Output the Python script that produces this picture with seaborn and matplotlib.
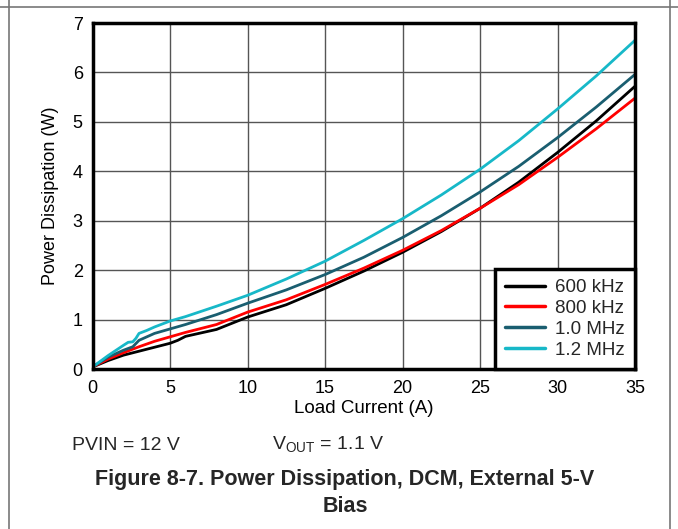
import matplotlib
matplotlib.use("Agg")
import matplotlib.pyplot as plt
import seaborn as sns
import pandas as pd
from matplotlib.lines import Line2D

sns.set_theme(style="white")
plt.rcParams['font.family'] = ['Liberation Sans', 'DejaVu Sans']

series_names = ["600 kHz", "800 kHz", "1.0 MHz", "1.2 MHz"]
colors = ["#000000", "#ff0000", "#1a5e70", "#17b8c8"]

x_600 = [0, 1, 2, 3, 4, 5, 5.5, 6, 7, 8, 10, 12.5, 15, 17.5, 20, 22.5, 25, 27.5, 30, 32.5, 35]
y_600 = [0.04, 0.17, 0.28, 0.36, 0.44, 0.52, 0.58, 0.66, 0.73, 0.8, 1.05, 1.3, 1.63, 1.98, 2.36, 2.78, 3.25, 3.78, 4.38, 5.02, 5.72]

x_800 = [0, 1, 2, 3, 4, 5, 6, 8, 10, 12.5, 15, 17.5, 20, 22.5, 25, 27.5, 30, 32.5, 35]
y_800 = [0.04, 0.2, 0.33, 0.45, 0.56, 0.65, 0.74, 0.9, 1.15, 1.4, 1.71, 2.04, 2.4, 2.8, 3.25, 3.73, 4.28, 4.86, 5.48]

x_10 = [0, 1, 2, 2.6, 3, 4, 5, 6, 8, 10, 12.5, 15, 17.5, 20, 22.5, 25, 27.5, 30, 32.5, 35]
y_10 = [0.04, 0.24, 0.38, 0.45, 0.58, 0.72, 0.81, 0.9, 1.1, 1.33, 1.6, 1.91, 2.26, 2.66, 3.1, 3.58, 4.1, 4.68, 5.3, 5.96]

x_12 = [0, 1, 2, 2.3, 2.6, 2.8, 3, 3.5, 4, 5, 6, 8, 10, 12.5, 15, 17.5, 20, 22.5, 25, 27.5, 30, 32.5, 35]
y_12 = [0.04, 0.27, 0.48, 0.54, 0.55, 0.62, 0.72, 0.78, 0.85, 0.97, 1.06, 1.27, 1.49, 1.82, 2.18, 2.6, 3.04, 3.52, 4.04, 4.62, 5.26, 5.93, 6.65]

frames = []
for name, xs, ys in zip(series_names, [x_600, x_800, x_10, x_12], [y_600, y_800, y_10, y_12]):
    frames.append(pd.DataFrame({"Load Current (A)": xs, "Power Dissipation (W)": ys, "Freq": name}))
df = pd.concat(frames, ignore_index=True)

W, H = 678, 529
fig = plt.figure(figsize=(W/100, H/100), dpi=100)
L, R, T, B = 92.5, 635, 23, 369
ax = fig.add_axes([L/W, 1-B/H, (R-L)/W, (B-T)/H])

sns.lineplot(data=df, x="Load Current (A)", y="Power Dissipation (W)", hue="Freq",
             hue_order=series_names, palette=colors, linewidth=2, ax=ax, legend=False,
             sort=False, estimator=None)

ax.set_xlim(0, 35)
ax.set_ylim(0, 7)
ax.set_xticks(range(0, 36, 5))
ax.set_yticks(range(0, 8))
ax.grid(True, color="#555555", linewidth=1)
ax.set_axisbelow(True)
for s in ax.spines.values():
    s.set_color("black")
    s.set_linewidth(2.5)
ax.tick_params(axis="both", labelsize=13, colors="black", length=0)
ax.tick_params(axis="x", pad=8)
ax.tick_params(axis="y", pad=7)
ax.set_xlabel("Load Current (A)", fontsize=13.5, color="black", labelpad=2)
ax.set_ylabel("Power Dissipation (W)", fontsize=13, color="black", labelpad=10)

handles = [Line2D([0], [0], color=c, linewidth=2.5) for c in colors]
leg = ax.legend(handles, series_names, loc="lower right", fontsize=13.5, frameon=True,
                fancybox=False, borderaxespad=0, handlelength=2.1, labelspacing=0.2,
                borderpad=0.55, handletextpad=0.55)
leg.get_frame().set_edgecolor("black")
leg.get_frame().set_linewidth(2.5)
leg.get_frame().set_alpha(1)

fig.text(72/W, 1-445/H, "PVIN = 12 V", fontsize=14, va="center", ha="left")
fig.text(272/W, 1-445/H, r"V$_{\mathregular{OUT}}$ = 1.1 V", fontsize=14, va="center", ha="left")
fig.text(345/W, 1-479/H, "Figure 8-7. Power Dissipation, DCM, External 5-V", fontsize=15.5,
         fontweight="bold", ha="center", va="center")
fig.text(345/W, 1-507/H, "Bias", fontsize=15.5, fontweight="bold", ha="center", va="center")

fig.add_artist(Line2D([0, 1], [1-7/H, 1-7/H], color="#777777", linewidth=1.2, transform=fig.transFigure))
fig.add_artist(Line2D([9/W, 9/W], [0, 1], color="#777777", linewidth=1.2, transform=fig.transFigure))
fig.add_artist(Line2D([670/W, 670/W], [0, 1], color="#777777", linewidth=1.2, transform=fig.transFigure))

fig.savefig("out.png", dpi=100)
